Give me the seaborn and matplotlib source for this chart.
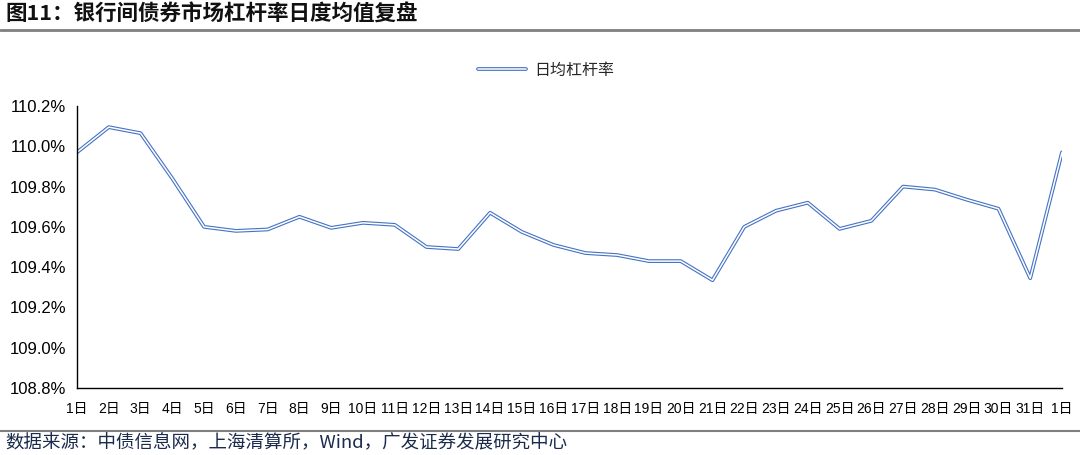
import numpy as np
import pandas as pd
import seaborn as sns
import matplotlib.pyplot as plt
import matplotlib.patheffects as pe
from matplotlib.ticker import FuncFormatter, MultipleLocator
from matplotlib.lines import Line2D

# daily average leverage ratio (%)
days = ['1日', '2日', '3日', '4日', '5日', '6日', '7日', '8日', '9日', '10日',
        '11日', '12日', '13日', '14日', '15日', '16日', '17日', '18日', '19日', '20日',
        '21日', '22日', '23日', '24日', '25日', '26日', '27日', '28日', '29日', '30日',
        '31日', '1日']
leverage = [109.97, 110.095, 110.065, 109.84, 109.60, 109.58, 109.587, 109.65, 109.595, 109.62,
            109.61, 109.50, 109.49, 109.67, 109.575, 109.51, 109.47, 109.46, 109.43, 109.43,
            109.335, 109.60, 109.68, 109.72, 109.59, 109.63, 109.80, 109.785, 109.735, 109.69,
            109.345, 109.97]

df = pd.DataFrame({'pos': np.arange(len(days)), 'val': leverage})

sns.set_style('white')
plt.rcParams['font.family'] = ['Liberation Sans', 'Noto Sans CJK SC', 'DejaVu Sans']

fig = plt.figure(figsize=(10.8, 4.55), dpi=100)
ax = fig.add_axes([77 / 1080, 1 - 388 / 455, (1062 - 77) / 1080, (388 - 106) / 455])

blue = '#4472C4'
sns.lineplot(data=df, x='pos', y='val', ax=ax, color='white', linewidth=1.1,
             label='日均杠杆率',
             path_effects=[pe.Stroke(linewidth=2.7, foreground=blue), pe.Normal()])

ax.set_xlim(0, len(days) - 1)
ax.set_ylim(108.8, 110.2)
ax.yaxis.set_major_locator(MultipleLocator(0.2))
ax.yaxis.set_major_formatter(FuncFormatter(lambda v, p: f'{v:.1f}%'))
ax.set_xticks(df['pos'])
ax.set_xticklabels(days, fontsize=10)
ax.tick_params(axis='y', labelsize=12, pad=8)
ax.tick_params(axis='both', direction='in', length=4, width=1, color='black', colors='black')
ax.tick_params(axis='x', pad=10)
ax.set_xlabel('')
ax.set_ylabel('')
for s in ['top', 'right']:
    ax.spines[s].set_visible(False)
for s in ['left', 'bottom']:
    ax.spines[s].set_color('black')
    ax.spines[s].set_linewidth(1)

handles, labels = ax.get_legend_handles_labels()
ax.legend_.remove()
fig.legend(handles, labels, loc='center', bbox_to_anchor=(546 / 1080, 1 - 70 / 455),
           frameon=False, handlelength=3.0, handletextpad=0.5,
           prop={'family': 'Noto Sans CJK SC', 'size': 11.5})

# title, separators and source
fig.text(5 / 1080, 1 - 14 / 455, '图11：银行间债券市场杠杆率日度均值复盘', fontsize=15.5,
         fontweight='bold', va='center', ha='left', color='#111111',
         family=['Noto Sans CJK SC', 'DejaVu Sans'])
fig.add_artist(Line2D([0, 1], [1 - 30 / 455, 1 - 30 / 455], color='#7f7f7f', linewidth=2))
fig.add_artist(Line2D([0, 1], [1 - 431 / 455, 1 - 431 / 455], color='#7f7f7f', linewidth=1.5))
fig.text(5 / 1080, 1 - 443 / 455, '数据来源：中债信息网，上海清算所，Wind，广发证券发展研究中心',
         fontsize=13.3, va='center', ha='left', color='#1a2b4c',
         family=['Noto Sans CJK SC', 'DejaVu Sans'])

fig.savefig('out.png', dpi=100)
